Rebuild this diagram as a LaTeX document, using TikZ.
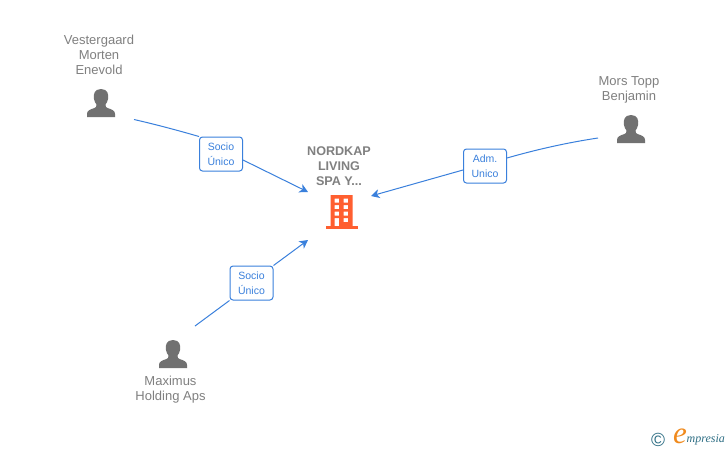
\documentclass[tikz,border=0pt]{standalone}
\usepackage{fontspec}
\setmainfont{Liberation Sans}
\newfontfamily\logofont{Liberation Serif}
\usetikzlibrary{arrows.meta}
\definecolor{namegray}{HTML}{808080}
\definecolor{iconblue}{HTML}{3A80DC}
\definecolor{icongray}{HTML}{717171}
\definecolor{bldg}{HTML}{FF5F30}
\definecolor{empteal}{HTML}{2F6F85}
\definecolor{emporange}{HTML}{F08A1D}
\tikzset{
  x=1pt,y=-1pt,
  namelabel/.style={align=center,text=namegray,font=\fontsize{13}{15}\selectfont,inner sep=0pt},
  boldlabel/.style={align=center,text=namegray,font=\fontsize{12.6}{15}\selectfont\bfseries,inner sep=0pt},
  edgebox/.style={draw=iconblue,fill=white,rounded corners=3pt,line width=1pt,minimum width=43pt,minimum height=34pt,inner sep=0pt,align=center,text=iconblue,font=\fontsize{10.5}{15}\selectfont},
  link/.style={draw=iconblue,line width=1pt},
  linkarrow/.style={link,-{Stealth[length=8.5pt,width=9pt,inset=2.5pt]}},
  personicon/.pic={
    \fill[icongray] (0,-28) .. controls (-6.5,-28) and (-8,-22.5) .. (-7,-18) .. controls (-6.5,-15.5) and (-5.5,-13.5) .. (-4.5,-12.5) .. controls (-4.5,-10) and (-5,-9.5) .. (-7,-8.8) .. controls (-11,-7.5) and (-14,-6.5) .. (-14,-3) -- (-14,0) -- (14,0) -- (14,-3) .. controls (14,-6.5) and (11,-7.5) .. (7,-8.8) .. controls (5,-9.5) and (4.5,-10) .. (4.5,-12.5) .. controls (5.5,-13.5) and (6.5,-15.5) .. (7,-18) .. controls (8,-22.5) and (6.5,-28) .. (0,-28) -- cycle;
  }
}
\begin{document}
\begin{tikzpicture}
\useasboundingbox (0,0) rectangle (728,450);
\fill[white] (0,0) rectangle (728,450);

% names
\node[namelabel] (vname) at (99,55) {Vestergaard\\Morten\\Enevold};
\node[namelabel] (mname) at (629,90) {Mors Topp\\Benjamin};
\node[namelabel] (hname) at (170.5,389.5) {Maximus\\Holding Aps};
\node[boldlabel] (cname) at (339,166.5) {NORDKAP\\LIVING\\SPA Y...};

% person icons
\pic at (101,117) {personicon};
\pic at (631,143) {personicon};
\pic at (173,368) {personicon};

% building icon
\fill[bldg] (325.5,226) rectangle (357.5,229);
\fill[bldg,even odd rule] (330.5,195) rectangle (352.5,227)
  (334.5,198.5) rectangle (339,202.5) (343.5,198.5) rectangle (348,202.5)
  (334.5,205) rectangle (339,209) (343.5,205) rectangle (348,209)
  (334.5,211.5) rectangle (339,215.5) (343.5,211.5) rectangle (348,215.5)
  (334.5,218) rectangle (339,227) (343.5,218) rectangle (348,222);

% anchors
\coordinate (vfrom) at (134,119.5);
\coordinate (vto) at (308,192);
\coordinate (mfrom) at (598,138);
\coordinate (mto) at (371,196);
\coordinate (hfrom) at (195,326);
\coordinate (hto) at (308,240);

% edge labels
\node[edgebox] (b1) at (221,154) {Socio\\Único};
\node[edgebox] (b2) at (485,166) {Adm.\\Unico};
\node[edgebox] (b3) at (251.5,283) {Socio\\Único};

% connectors
\draw[link] (vfrom) .. controls (158,125) and (180,131) .. (b1.north west);
\draw[linkarrow] ([yshift=-6pt]b1.east) -- (vto);
\draw[link] (mfrom) .. controls (565,143) and (535,150) .. ([yshift=8pt]b2.east);
\draw[linkarrow] ([yshift=-4pt]b2.west) -- (mto);
\draw[link] (hfrom) -- (b3.south west);
\draw[linkarrow] (b3.north east) -- (hto);

% logo
\node[inner sep=0pt,text=empteal,font=\fontsize{19}{19}\selectfont] (copyr) at (658,439.5) {\char"00A9};
\node[inner sep=0pt,text=emporange,font=\fontsize{31}{31}\selectfont\logofont\itshape] (loge) at (680,436.5) {e};
\node[inner sep=0pt,anchor=west,text=empteal,font=\fontsize{12}{13}\selectfont\logofont\itshape] (logt) at (686.5,440) {mpresia};
\end{tikzpicture}
\end{document}
